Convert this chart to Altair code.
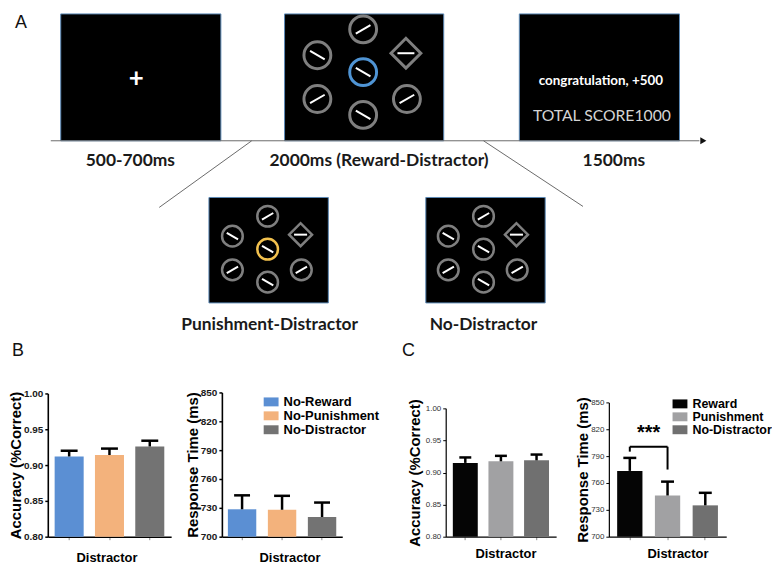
import altair as alt
import pandas as pd

# ---------------- data ----------------
# Panel B
b_conditions = ["No-Reward", "No-Punishment", "No-Distractor"]
b_acc_mean = [0.912, 0.914, 0.926]
b_acc_upper = [0.920, 0.923, 0.934]
b_rt_mean = [728.5, 728.0, 720.5]
b_rt_upper = [743.0, 742.5, 735.5]

# Panel C
c_conditions = ["Reward", "Punishment", "No-Distractor"]
c_acc_mean = [0.915, 0.9175, 0.919]
c_acc_upper = [0.9235, 0.926, 0.928]
c_rt_mean = [773.5, 746.0, 735.0]
c_rt_upper = [788.0, 761.5, 749.0]

# significance bracket in panel C (response time)
sig_groups = ["Reward", "Punishment"]
sig_level = 800.5
sig_leg_ends = [795.0, 775.0]
sig_text = "***"

acc_ticks = [0.80, 0.85, 0.90, 0.95, 1.00]
rt_ticks = [700, 730, 760, 790, 820, 850]

# Panel A texts
phase_labels = ["500-700ms", "2000ms (Reward-Distractor)", "1500ms"]
variant_labels = ["Punishment-Distractor", "No-Distractor"]
feedback_text = ["congratulation, +500", "TOTAL SCORE1000"]
panel_letters = ["A", "B", "C"]

# search display items (unit layout) and line orientations (deg, clockwise)
item_kind = ["ring", "ring", "cue", "ring", "ring", "ring", "diamond"]
item_dx = [0, -46, 0, -46, 0, 44, 43]
item_dy = [-43, -17, 0, 27, 43, 27, -19]
item_angle = [330, 30, 30, 330, 30, 330, 0]

# ---------------- layout / style ----------------
PAGE = 8
WA, HA = 764, 380
FONT = "Liberation Sans"
LFONT = "Lato"

screens = pd.DataFrame({
    "x": [58, 283, 519, 207, 425], "x2": [219, 443, 680, 327, 545],
    "y": [8.5, 8.5, 8.5, 193, 193], "y2": [136, 136, 136, 299, 299]})
displays = [  # centre x, centre y, scale, cue colour
    (362, 67, 1.0, "#4f94d4"),
    (266, 245, 0.77, "#f2c14e"),
    (483, 245, 0.77, "#7f7f7f"),
]
lines = pd.DataFrame({"x": [48, 250, 483], "x2": [700, 157, 583],
                      "y": [136, 136, 136], "y2": [136, 203, 202]})

xs = alt.Scale(domain=[PAGE, PAGE + WA], nice=False, zero=False)
ys = alt.Scale(domain=[PAGE, PAGE + HA], nice=False, zero=False, reverse=True)
X = lambda f: alt.X(f, type="quantitative", scale=xs, axis=None)
Y = lambda f: alt.Y(f, type="quantitative", scale=ys, axis=None)

rows = []
segs = []
for cx, cy, s, cue in displays:
    for k, dx, dy, ang in zip(item_kind, item_dx, item_dy, item_angle):
        col = cue if k == "cue" else "#7f7f7f"
        diam = 30 if k == "diamond" else 27
        rows.append({"x": cx + dx * s, "y": cy + dy * s,
                     "shape": "diamond" if k == "diamond" else "circle",
                     "col": col, "sz": (diam * s) ** 2, "sw": 3 if s == 1 else 2.5})
        segs.append({"x": cx + dx * s, "y": cy + dy * s, "ang": ang, "sz": (17 * s) ** 2})
rings_df = pd.DataFrame(rows)
segs_df = pd.DataFrame(segs)

frames = alt.Chart(screens).mark_rect(fill="black", stroke="#5b88b5", strokeWidth=1).encode(
    x=X("x"), x2="x2", y=Y("y"), y2="y2")
conn = alt.Chart(lines).mark_rule(color="#6a6a6a", strokeWidth=1).encode(
    x=X("x"), x2="x2", y=Y("y"), y2="y2")
arrow = alt.Chart(pd.DataFrame({"x": [704], "y": [136]})).mark_point(
    shape="triangle-right", filled=True, color="#111", size=50, opacity=1).encode(x=X("x"), y=Y("y"))
rings = alt.Chart(rings_df).mark_point(filled=False, opacity=1).encode(
    x=X("x"), y=Y("y"), shape=alt.Shape("shape:N", scale=None),
    stroke=alt.Stroke("col:N", scale=None), size=alt.Size("sz:Q", scale=None),
    strokeWidth=alt.StrokeWidth("sw:Q", scale=None))
seglines = alt.Chart(segs_df).mark_point(
    shape="M-1,0L1,0", filled=False, stroke="white", strokeWidth=2, opacity=1).encode(
    x=X("x"), y=Y("y"), angle=alt.Angle("ang:Q", scale=None), size=alt.Size("sz:Q", scale=None))
fix = alt.Chart(pd.DataFrame({"t": ["+"], "x": [134], "y": [74]})).mark_text(
    font=LFONT, fontWeight="bold", fontSize=26, color="white", baseline="middle").encode(
    x=X("x"), y=Y("y"), text="t:N")
fb1 = alt.Chart(pd.DataFrame({"t": [feedback_text[0]], "x": [601], "y": [80]})).mark_text(
    font=LFONT, fontWeight="bold", fontSize=13.5, color="white", baseline="alphabetic").encode(
    x=X("x"), y=Y("y"), text="t:N")
fb2 = alt.Chart(pd.DataFrame({"t": [feedback_text[1]], "x": [602], "y": [116]})).mark_text(
    font=LFONT, fontSize=15.8, color="#d4d4d4", baseline="alphabetic").encode(
    x=X("x"), y=Y("y"), text="t:N")
lab_df = pd.DataFrame({"t": phase_labels + variant_labels,
                       "x": [128, 378, 614, 268, 483], "y": [161, 161, 161, 326, 326]})
labs = alt.Chart(lab_df).mark_text(
    font=LFONT, fontWeight="bold", fontSize=17.5, color="#1a1a1a", baseline="alphabetic").encode(
    x=X("x"), y=Y("y"), text="t:N")
let_df = pd.DataFrame({"t": panel_letters, "x": [12, 9, 401], "y": [23, 352, 352]})
letters = alt.Chart(let_df).mark_text(
    font=FONT, fontSize=18, color="#111", align="left", baseline="alphabetic").encode(
    x=X("x"), y=Y("y"), text="t:N")

panel_a = alt.layer(frames, conn, arrow, rings, seglines, fix, fb1, fb2, labs, letters).properties(
    width=WA, height=HA)

ROW_H = 146  # plot rows span image y 388..534


def spacer(w):
    return alt.Chart(pd.DataFrame({"v": [0]})).mark_point(opacity=0).encode(
        x=alt.value(0), y=alt.value(0)).properties(width=w, height=ROW_H)


def bar_panel(conds, means, uppers, colors, ydom, yticks, yfmt, ytitle, w, top,
              pin, pout, bold_axis, title_pad, title_x, title_y, cap, legend=None, extra=None):
    df = pd.DataFrame({"cond": conds, "mean": means, "upper": uppers})
    lab_w = "bold" if bold_axis else "normal"
    dw = 1.6 if bold_axis else 1.2
    xaxis = alt.Axis(title="Distractor", labels=False, ticks=True, tickSize=3,
                     tickColor="#888", tickWidth=1, domainColor="black", domainWidth=dw,
                     titleFont=FONT, titleFontSize=13, titleFontWeight="bold", titleColor="black",
                     titleBaseline="top", titleX=title_x, titleY=title_y, titleAlign="center")
    yaxis = alt.Axis(values=yticks, format=yfmt, title=ytitle, grid=False,
                     labelFont=FONT, labelFontSize=10 if bold_axis else 8, labelFontWeight=lab_w,
                     labelColor="#1a1a1a" if bold_axis else "#333", labelPadding=2,
                     tickSize=3, tickColor="black", tickWidth=1.5 if bold_axis else 1,
                     domainColor="black", domainWidth=dw,
                     titleFont=FONT, titleFontSize=15, titleFontWeight="bold", titleColor="black",
                     titlePadding=title_pad)
    xsc = alt.Scale(domain=conds, paddingInner=pin, paddingOuter=pout)
    ysc = alt.Scale(domain=ydom, range=[ROW_H, top], nice=False, zero=False)
    xenc = alt.X("cond:N", sort=conds, scale=xsc, axis=xaxis)
    bars = alt.Chart(df).mark_bar().encode(
        x=xenc, y=alt.Y("mean:Q", scale=ysc, axis=yaxis), y2=alt.datum(ydom[0]),
        color=alt.Color("cond:N", scale=alt.Scale(domain=conds, range=colors), legend=legend))
    stems = alt.Chart(df).mark_rule(color="black", strokeWidth=2.5).encode(
        x=xenc, y=alt.Y("mean:Q", scale=ysc, axis=yaxis), y2="upper:Q")
    caps = alt.Chart(df).mark_tick(color="black", thickness=2.5, size=cap, opacity=1).encode(
        x=xenc, y=alt.Y("upper:Q", scale=ysc, axis=yaxis))
    layers = [bars, stems, caps]
    if extra is not None:
        layers += extra(xsc, xaxis, ysc, yaxis)
    return alt.layer(*layers).properties(width=w, height=ROW_H)


def legend_for(x, y, size):
    return alt.Legend(orient="none", legendX=x, legendY=y, title=None,
                      symbolType="M-1.15,-0.69H1.15V0.69H-1.15Z", symbolSize=169,
                      symbolStrokeWidth=0, symbolOpacity=1, labelFont=FONT, labelFontSize=size,
                      labelFontWeight="bold", labelColor="black", labelOffset=6,
                      rowPadding=0, padding=0)


def sig_layers(xsc, xaxis, ysc, yaxis):
    g1, g2 = sig_groups
    hz = alt.Chart(pd.DataFrame({"cond": [g1], "b": [g2], "mean": [sig_level]})).mark_rule(
        color="black", strokeWidth=2).encode(
        x=alt.X("cond:N", scale=xsc, axis=xaxis), x2="b:N",
        y=alt.Y("mean:Q", scale=ysc, axis=yaxis))
    legs = alt.Chart(pd.DataFrame({"cond": sig_groups, "mean": [sig_level] * 2,
                                   "bot": sig_leg_ends})).mark_rule(
        color="black", strokeWidth=2).encode(
        x=alt.X("cond:N", scale=xsc, axis=xaxis),
        y=alt.Y("mean:Q", scale=ysc, axis=yaxis), y2="bot:Q")
    star = alt.Chart(pd.DataFrame({"cond": [g1], "mean": [sig_level + 9], "t": [sig_text]})).mark_text(
        font=FONT, fontSize=20, fontWeight="bold", color="black", dx=19, baseline="alphabetic").encode(
        x=alt.X("cond:N", scale=xsc, axis=xaxis),
        y=alt.Y("mean:Q", scale=ysc, axis=yaxis), text="t:N")
    return [hz, legs, star]


b_colors = ["#5b8fd3", "#f3b27c", "#737373"]
c_colors = ["#050505", "#a1a1a3", "#707070"]

B1 = bar_panel(b_conditions, b_acc_mean, b_acc_upper, b_colors, [0.8, 1.0], acc_ticks, ".2f",
               "Accuracy (%Correct)", 124, 2, 0.28, 0.17, True, 0, 59, 15, 17, legend=None)
B2 = bar_panel(b_conditions, b_rt_mean, b_rt_upper, b_colors, [700, 850], rt_ticks, "d",
               "Response Time (ms)", 121, 1, 0.29, 0.15, True, 0, 68, 15, 16,
               legend=legend_for(43, 4, 13))
C1 = bar_panel(c_conditions, c_acc_mean, c_acc_upper, c_colors, [0.8, 1.0], acc_ticks, ".2f",
               "Accuracy (%Correct)", 111, 17, 0.30, 0.20, False, 3, 60, 11, 12, legend=None)
C2 = bar_panel(c_conditions, c_rt_mean, c_rt_upper, c_colors, [700, 850], rt_ticks, "d",
               "Response Time (ms)", 118, 11, 0.33, 0.22, False, 0, 69, 11, 13,
               legend=legend_for(65, 6, 12.5), extra=sig_layers)

row = alt.hconcat(
    spacer(37), B1, spacer(51), B2, spacer(104), C1, spacer(53), C2,
    spacing=0, bounds="flush").resolve_scale(color="independent")

chart = alt.vconcat(panel_a, row, spacing=0, bounds="flush").resolve_scale(
    color="independent").properties(padding=0).configure_view(stroke=None)

chart.save("out.html", embed_options={"renderer": "svg", "actions": False})
